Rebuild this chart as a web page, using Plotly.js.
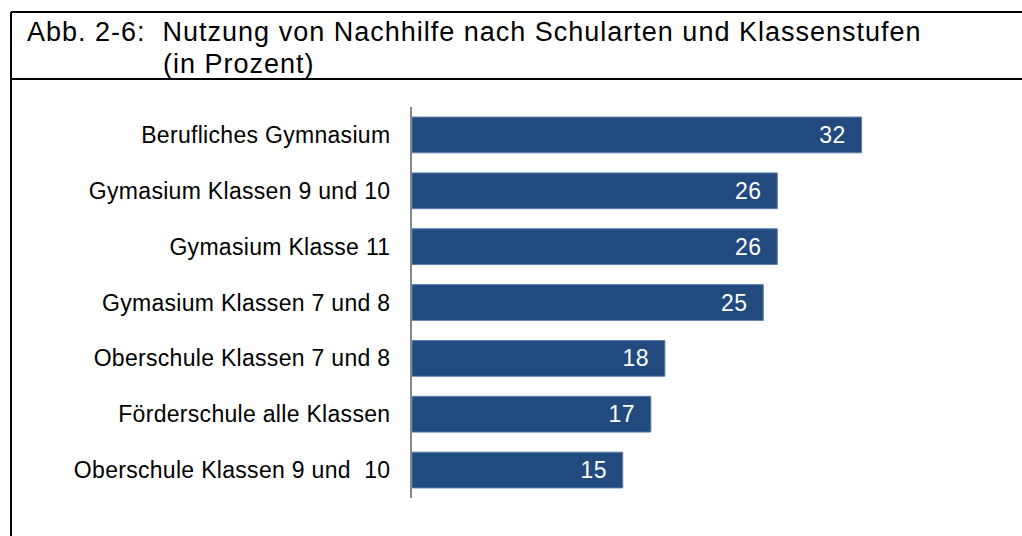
<!DOCTYPE html>
<html>
<head>
<meta charset="utf-8">
<script src="https://cdn.plot.ly/plotly-3.0.1.min.js"></script>
<style>
  body { margin: 0; background: #fff; }
  #plot { width: 1022px; height: 536px; }
  /* the reference text is set a little wider than Arial */
  #plot .annotation-text { letter-spacing: 1px; }
  #plot .ytick text { letter-spacing: 0.3px; }
  #plot .bartext { letter-spacing: 0.5px; }
</style>
</head>
<body>
<div id="plot"></div>
<script>
var categories = [
  'Berufliches Gymnasium',
  'Gymasium Klassen 9 und 10',
  'Gymasium Klasse 11',
  'Gymasium Klassen 7 und 8',
  'Oberschule Klassen 7 und 8',
  'Förderschule alle Klassen',
  'Oberschule Klassen 9 und\u00a0\u00a010'
];
var values = [32, 26, 26, 25, 18, 17, 15];

var titleLine1 = 'Abb. 2-6:  Nutzung von Nachhilfe nach Schularten und Klassenstufen';
var titleLine2 = '(in Prozent)';

// plot area in pixels
var L = 412, R = 48, T = 107, B = 38, W = 1022, H = 536;
var pw = W - L - R, ph = H - T - B;
function px(x) { return (x - L) / pw; }
function py(y) { return (H - B - y) / ph; }

var font = 'Arial, "Liberation Sans", sans-serif';

var trace = {
  type: 'bar',
  orientation: 'h',
  y: categories,
  x: values,
  width: 0.64,
  marker: { color: '#224a7e', line: { color: '#5b7fb0', width: 1 } },
  text: values.map(function (v) { return v + '\u00a0\u00a0'; }),
  textposition: 'inside',
  insidetextanchor: 'end',
  textfont: { family: font, size: 23, color: '#ffffff' },
  hoverinfo: 'none'
};

// letter-spacing widens centred annotation text on both sides, so shift right by half
function titleX(left, s) { return px(left + s.length * 0.5); }

var layout = {
  width: W,
  height: H,
  margin: { l: L, r: R, t: T, b: B },
  paper_bgcolor: '#ffffff',
  plot_bgcolor: '#ffffff',
  showlegend: false,
  font: { family: font, color: '#000000' },
  xaxis: {
    range: [0, 40],
    visible: false,
    showgrid: false,
    zeroline: false
  },
  yaxis: {
    autorange: 'reversed',
    showline: true,
    linecolor: '#888888',
    linewidth: 2,
    ticks: 'outside',
    ticklen: 15,
    tickcolor: 'rgba(0,0,0,0)',
    tickfont: { family: font, size: 23, color: '#000000' },
    showgrid: false,
    zeroline: false
  },
  shapes: [
    { type: 'line', xref: 'paper', yref: 'paper', x0: px(11), x1: px(1022), y0: py(12), y1: py(12), line: { color: '#000', width: 2 } },
    { type: 'line', xref: 'paper', yref: 'paper', x0: px(11), x1: px(1022), y0: py(79), y1: py(79), line: { color: '#000', width: 2 } },
    { type: 'line', xref: 'paper', yref: 'paper', x0: px(11), x1: px(11), y0: py(12), y1: py(536), line: { color: '#000', width: 2 } }
  ],
  annotations: [
    { text: titleLine1, xref: 'paper', yref: 'paper', x: titleX(25, titleLine1), y: py(32), xanchor: 'left', yanchor: 'middle', showarrow: false, font: { family: font, size: 27, color: '#000' } },
    { text: titleLine2, xref: 'paper', yref: 'paper', x: titleX(161, titleLine2), y: py(64), xanchor: 'left', yanchor: 'middle', showarrow: false, font: { family: font, size: 27, color: '#000' } }
  ]
};

Plotly.newPlot('plot', [trace], layout, { staticPlot: true });
</script>
</body>
</html>
